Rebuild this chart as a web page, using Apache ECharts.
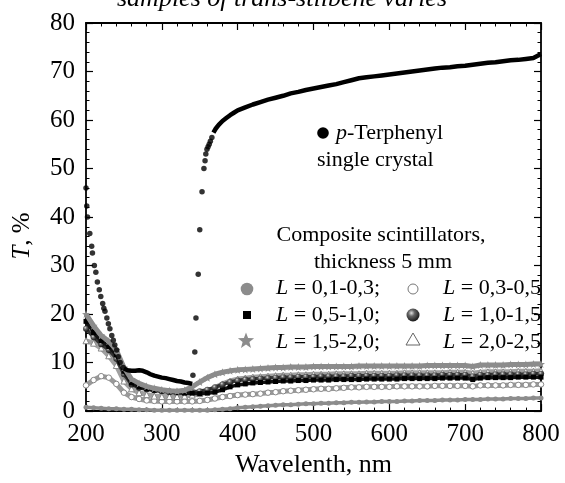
<!DOCTYPE html>
<html>
<head>
<meta charset="utf-8">
<script src="https://cdn.jsdelivr.net/npm/echarts@6/dist/echarts.min.js"></script>
<style>
  html, body { margin: 0; padding: 0; background: #fff; }
  #chart { width: 565px; height: 483px; }
</style>
</head>
<body>
<div id="chart"></div>
<script>
// Wavelength grid (nm) for the composite scintillator spectra
const wl = [200,210,220,230,240,250,260,270,280,290,300,310,320,330,340,350,360,370,380,390,
            400,410,420,430,440,450,460,470,480,490,500,510,520,530,540,550,560,570,580,590,
            600,610,620,630,640,650,660,670,680,690,700,710,720,730,740,750,760,770,780,790,800];

// Transmittance T, % of composite samples (thickness 5 mm), by grain size L
const tL01_03 = [0.8,0.7,0.6,0.5,0.5,0.4,0.4,0.3,0.3,0.2,0.2,0.2,0.2,0.2,0.2,0.2,0.2,0.3,0.4,0.5,
                 0.7,0.8,0.9,1.0,1.1,1.2,1.3,1.3,1.4,1.5,1.5,1.6,1.6,1.7,1.7,1.8,1.8,1.9,1.9,2.0,
                 2.0,2.0,2.1,2.1,2.2,2.2,2.2,2.3,2.3,2.3,2.4,2.4,2.4,2.5,2.5,2.5,2.6,2.6,2.6,2.7,2.7];
const tL03_05 = [5.3,6.4,7.2,6.9,5.6,3.8,2.9,2.5,2.2,2.1,2.0,2.0,2.0,2.0,2.0,2.1,2.3,2.6,2.9,3.1,
                 3.3,3.4,3.5,3.6,3.8,3.9,4.1,4.2,4.3,4.4,4.5,4.6,4.6,4.7,4.8,4.9,4.9,5.0,5.0,5.0,
                 5.0,5.1,5.1,5.1,5.1,5.1,5.2,5.2,5.2,5.2,5.2,5.1,5.3,5.3,5.3,5.3,5.4,5.4,5.4,5.5,5.5];
const tL05_10 = [18.5,16.2,14.5,13.3,11.6,8.2,5.8,5.0,4.6,4.3,4.1,3.9,3.8,3.7,3.7,3.6,3.7,3.9,4.4,5.0,
                 5.4,5.6,5.8,5.9,6.0,6.1,6.2,6.2,6.3,6.3,6.4,6.4,6.4,6.5,6.5,6.5,6.5,6.6,6.6,6.6,
                 6.6,6.6,6.7,6.7,6.7,6.7,6.7,6.8,6.8,6.8,6.8,6.5,6.8,6.9,6.9,6.9,6.9,7.0,7.0,7.0,7.0];
const tL10_15 = [17.0,15.2,13.8,12.6,10.8,7.6,5.5,4.8,4.5,4.3,4.2,4.1,4.0,4.0,4.0,4.1,4.4,4.9,5.5,6.0,
                 6.3,6.5,6.6,6.7,6.8,6.9,7.0,7.0,7.1,7.1,7.1,7.2,7.2,7.2,7.2,7.3,7.3,7.3,7.3,7.3,
                 7.3,7.4,7.4,7.4,7.4,7.4,7.4,7.5,7.5,7.5,7.5,7.2,7.5,7.5,7.6,7.6,7.6,7.6,7.6,7.7,7.7];
const tL15_20 = [20.0,17.6,15.6,14.4,12.6,9.0,6.6,5.7,5.1,4.7,4.4,4.2,4.1,4.3,5.0,6.0,6.9,7.6,8.0,8.3,
                 8.5,8.6,8.7,8.8,8.9,9.0,9.0,9.1,9.1,9.1,9.2,9.2,9.2,9.2,9.2,9.2,9.3,9.3,9.3,9.3,
                 9.3,9.3,9.3,9.3,9.3,9.4,9.4,9.4,9.4,9.4,9.4,9.2,9.5,9.5,9.5,9.5,9.6,9.6,9.6,9.7,9.7];
const tL20_25 = [14.5,14.0,13.0,11.4,9.4,6.2,4.6,3.8,3.4,3.1,3.0,3.0,3.0,3.1,3.3,3.6,4.1,4.8,5.6,6.2,
                 6.6,6.8,7.0,7.1,7.2,7.3,7.4,7.4,7.5,7.5,7.6,7.6,7.6,7.7,7.7,7.7,7.7,7.8,7.8,7.8,
                 7.8,7.8,7.9,7.9,7.9,7.9,7.9,7.9,8.0,8.0,8.0,7.8,8.0,8.1,8.1,8.1,8.1,8.2,8.2,8.2,8.3];

// p-Terphenyl single crystal: separately resolved points
const terDotWl = [200,201,202,205,207.5,208.5,211,213,215,217.5,219.5,222,223.5,225,227.5,229.5,231.5,234,
                  236,238,240.5,242.5,245,249,341,343.5,345,348,350,353,355.5,357,358,359.5,361,362.5,364,366];
const terDotT  = [46,42.3,40,36.6,34,32.6,30,28.6,26.6,25,23.6,22.2,21.2,20.6,19.2,18,17,15.6,
                  14.6,13.6,12.6,11.2,10,9,7.4,12.2,19.2,28.2,37.4,45.2,50,51.6,53,54,54.5,55,55.6,56.4];
// p-Terphenyl: densely sampled stretches below and above the absorption edge
const terLowWl = [250,255,260,265,270,275,280,285,290,295,300,305,310,315,320,325,330,335,340];
const terLowT  = [8.8,8.4,8.3,8.3,8.4,8.3,8.0,7.6,7.3,7.1,6.9,6.8,6.6,6.4,6.2,6.1,5.9,5.8,5.6];
const terHighWl = [368,371,375,380,385,390,395,400,410,420,430,440,450,460,470,480,490,500,510,520,
                   530,540,550,560,570,580,590,600,610,620,630,640,650,660,670,680,690,700,710,720,
                   730,740,750,760,770,780,790,795,800];
const terHighT  = [57.4,58.2,59.0,59.8,60.4,61.0,61.5,62.0,62.6,63.2,63.7,64.2,64.6,65.0,65.5,65.8,66.2,66.5,66.8,67.1,
                   67.4,67.8,68.2,68.6,68.8,69.0,69.2,69.4,69.6,69.8,70.0,70.2,70.4,70.6,70.8,70.9,71.1,71.2,71.4,71.6,
                   71.8,71.9,72.1,72.3,72.4,72.6,72.8,73.2,73.6];

// Axis ranges
const xMin = 200, xMax = 800, xStep = 100;
const yMin = 0, yMax = 80, yStep = 10;

const SERIF = '"Liberation Serif", "Times New Roman", serif';
const GRAY = '#8c8c8c';

function pairs(xs, ys) { return xs.map((x, i) => [x, ys[i]]); }

// five-pointed star outline as an SVG path, unit box
function starPath() {
  let d = '';
  for (let k = 0; k < 10; k++) {
    const r = k % 2 === 0 ? 1 : 0.42;
    const a = -Math.PI / 2 + k * Math.PI / 5;
    const px = (1 + r * Math.cos(a)).toFixed(3), py = (1 + r * Math.sin(a)).toFixed(3);
    d += (k === 0 ? 'M' : 'L') + px + ',' + py;
  }
  return d + 'Z';
}
const STAR = 'path://' + starPath();
function starPoints(cx, cy, R) {
  const pts = [];
  for (let k = 0; k < 10; k++) {
    const r = k % 2 === 0 ? R : R * 0.42;
    const a = -Math.PI / 2 + k * Math.PI / 5;
    pts.push([cx + r * Math.cos(a), cy + r * Math.sin(a)]);
  }
  return pts;
}
const sphereFill = {
  type: 'radial', x: 0.38, y: 0.35, r: 0.7,
  colorStops: [{ offset: 0, color: '#e0e0e0' }, { offset: 0.35, color: '#666' }, { offset: 1, color: '#111' }]
};

const axisCommon = {
  type: 'value',
  axisLine: { show: true, onZero: false, lineStyle: { color: '#000', width: 1.8 } },
  axisTick: { show: true, inside: true, length: 7, lineStyle: { color: '#000', width: 1.2 } },
  minorTick: { show: true, splitNumber: 5, length: 3.5, lineStyle: { color: '#000', width: 1 } },
  splitLine: { show: false }
};

const chart = echarts.init(document.getElementById('chart'), null, { renderer: 'canvas' });

const legendRows = [
  { y: 288, text: ' = 0,1-0,3;', col: 0 },
  { y: 288, text: ' = 0,3-0,5', col: 1 },
  { y: 315, text: ' = 0,5-1,0;', col: 0 },
  { y: 315, text: ' = 1,0-1,5', col: 1 },
  { y: 342, text: ' = 1,5-2,0;', col: 0 },
  { y: 342, text: ' = 2,0-2,5', col: 1 }
];
const colTextX = [276, 443];

const richText = (s) => ({
  type: 'text',
  style: {
    text: s.t, x: s.x, y: s.y, fill: '#000',
    fontFamily: SERIF, fontSize: s.size || 22,
    align: s.align || 'left', verticalAlign: 'middle',
    rich: { i: { fontStyle: 'italic', fontFamily: SERIF, fontSize: s.size || 22, fill: '#000' } }
  }
});

const graphics = [
  // caption line running off the top edge
  { type: 'text', style: { text: 'samples of trans-stilbene varies', x: 282, y: 12, fill: '#000',
    font: 'italic 26px ' + SERIF, align: 'center', verticalAlign: 'bottom' } },
  // y-axis title
  { type: 'text', x: 22, y: 236, rotation: Math.PI / 2,
    style: { text: '{i|T}, %', fill: '#000', fontFamily: SERIF, fontSize: 25, align: 'center', verticalAlign: 'middle',
      rich: { i: { fontStyle: 'italic', fontFamily: SERIF, fontSize: 25 } } } },
  // p-Terphenyl key
  { type: 'circle', shape: { cx: 323, cy: 133, r: 5.8 }, style: { fill: '#000' } },
  richText({ t: '{i|p}-Terphenyl', x: 336, y: 133 }),
  richText({ t: 'single crystal', x: 317, y: 160 }),
  // composite key header
  richText({ t: 'Composite scintillators,', x: 381, y: 235, align: 'center' }),
  richText({ t: 'thickness 5 mm', x: 383, y: 262, align: 'center' }),
  // composite key symbols
  { type: 'circle', shape: { cx: 247, cy: 289, r: 6.3 }, style: { fill: GRAY } },
  { type: 'circle', shape: { cx: 413, cy: 289, r: 5 }, style: { fill: '#fff', stroke: '#777', lineWidth: 1 } },
  { type: 'rect', shape: { x: 243, y: 311, width: 8, height: 8 }, style: { fill: '#000' } },
  { type: 'circle', shape: { cx: 413, cy: 315, r: 6.5 }, style: { fill: sphereFill } },
  { type: 'polygon', shape: { points: starPoints(246, 341, 8.5) }, style: { fill: GRAY } },
  { type: 'polygon', shape: { points: [[413, 333], [420, 345], [406, 345]] }, style: { fill: '#fff', stroke: '#666', lineWidth: 1 } }
];
legendRows.forEach(r => graphics.push(richText({ t: '{i|L}' + r.text, x: colTextX[r.col], y: r.y })));
// keep the right-column key text inside the frame
graphics.push({ type: 'rect', shape: { x: 542.5, y: 270, width: 30, height: 90 }, style: { fill: '#fff' }, z: 100 });

function compSeries(name, vals, symbol, size, line, item, z) {
  return {
    name, type: 'line', data: pairs(wl, vals), symbol, symbolSize: size, showSymbol: true,
    lineStyle: line, itemStyle: item, z, animation: false, silent: true
  };
}

const option = {
  animation: false,
  backgroundColor: '#fff',
  grid: { left: 86, right: 24, top: 23, bottom: 60, containLabel: false },
  xAxis: [
    Object.assign({}, axisCommon, {
      min: xMin, max: xMax, interval: xStep, position: 'bottom',
      axisLabel: { show: true, margin: 11, color: '#000', fontFamily: SERIF, fontSize: 25 },
      name: 'Wavelenth, nm', nameLocation: 'middle', nameGap: 36,
      nameTextStyle: { color: '#000', fontFamily: SERIF, fontSize: 26 }
    }),
    Object.assign({}, axisCommon, {
      min: xMin, max: xMax, interval: xStep, position: 'top', axisLabel: { show: false }
    })
  ],
  yAxis: [
    Object.assign({}, axisCommon, {
      min: yMin, max: yMax, interval: yStep, position: 'left',
      axisLabel: { show: true, margin: 11, color: '#000', fontFamily: SERIF, fontSize: 25 }
    }),
    Object.assign({}, axisCommon, {
      min: yMin, max: yMax, interval: yStep, position: 'right', axisLabel: { show: false }
    })
  ],
  graphic: { elements: graphics },
  series: [
    compSeries('L = 0,1-0,3', tL01_03, 'circle', 5, { color: GRAY, width: 3.5 }, { color: GRAY }, 2),
    compSeries('L = 0,3-0,5', tL03_05, 'circle', 5.5, { color: '#999', width: 5 }, { color: '#fff', borderColor: '#888', borderWidth: 1 }, 3),
    compSeries('L = 2,0-2,5', tL20_25, 'triangle', 6, { color: '#a0a0a0', width: 5 }, { color: '#fff', borderColor: '#888', borderWidth: 1 }, 4),
    compSeries('L = 1,0-1,5', tL10_15, 'circle', 6, { color: '#333', width: 3.5 }, { color: sphereFill }, 5),
    compSeries('L = 0,5-1,0', tL05_10, 'rect', 5, { color: '#111', width: 3.5 }, { color: '#000' }, 6),
    compSeries('L = 1,5-2,0', tL15_20, STAR, 8, { color: GRAY, width: 5 }, { color: GRAY }, 7),
    { name: 'p-Terphenyl', type: 'scatter', data: pairs(terDotWl, terDotT), symbol: 'circle', symbolSize: 5.5,
      itemStyle: { color: '#000' }, z: 8, silent: true },
    { name: 'p-Terphenyl low', type: 'line', data: pairs(terLowWl, terLowT), showSymbol: false,
      lineStyle: { color: '#000', width: 4.5 }, z: 8, silent: true },
    { name: 'p-Terphenyl high', type: 'line', data: pairs(terHighWl, terHighT), showSymbol: false,
      lineStyle: { color: '#000', width: 4.5 }, z: 8, silent: true }
  ]
};

chart.setOption(option);
</script>
</body>
</html>
